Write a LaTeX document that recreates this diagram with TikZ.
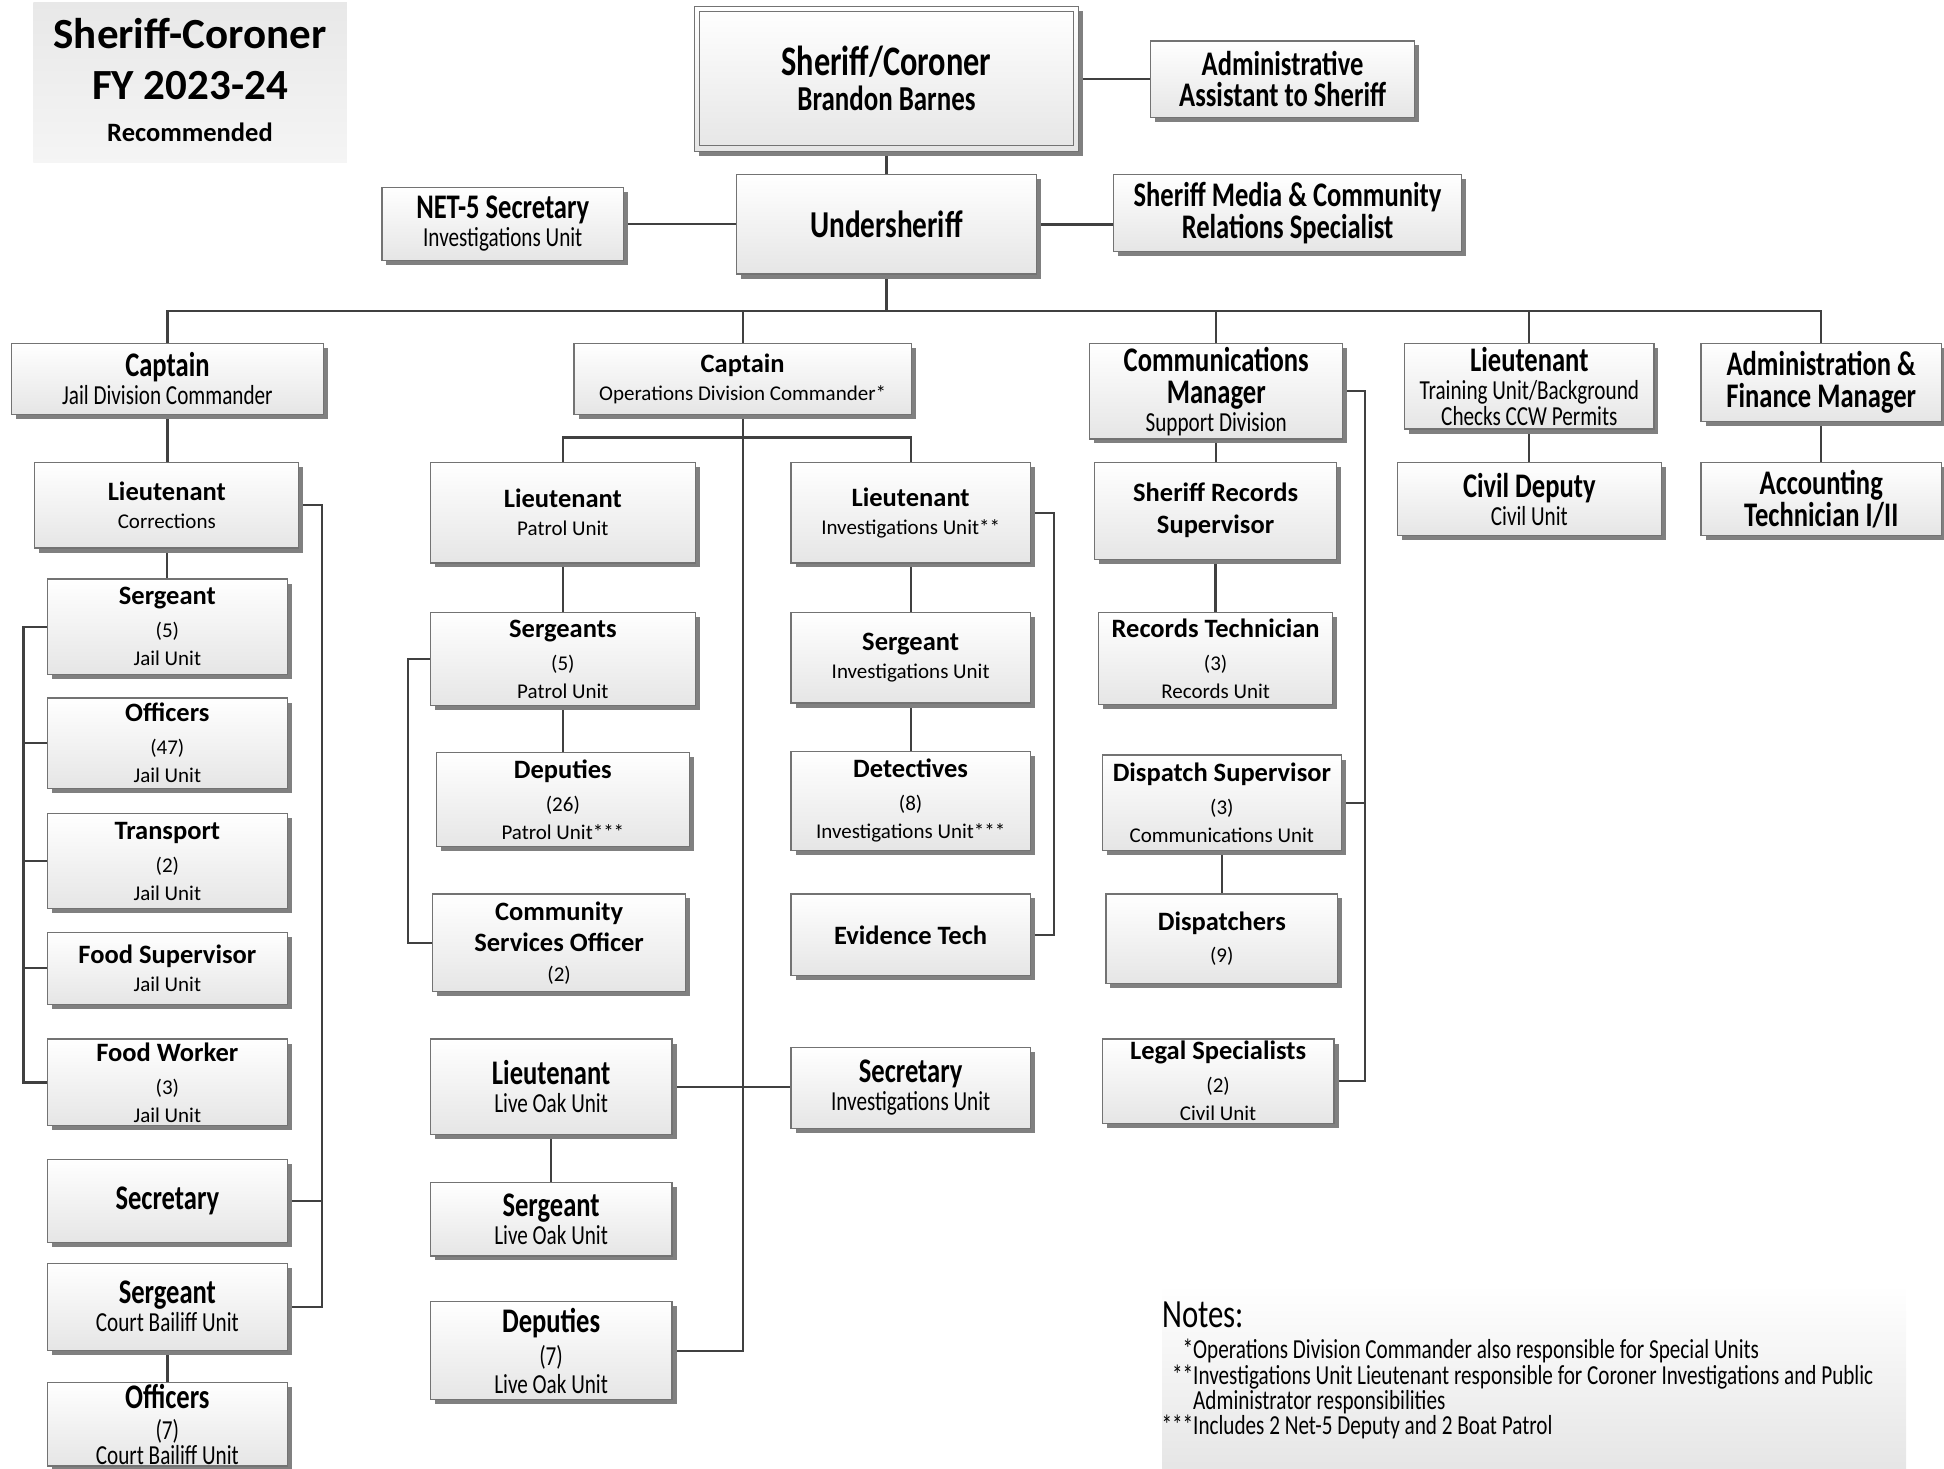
\documentclass[tikz,border=0pt]{standalone}
\usepackage{fontspec}
\setmainfont{Carlito}
\newfontfamily\tallfont[FakeStretch=0.77]{Carlito}
\usetikzlibrary{shadows}
\pgfdeclarelayer{bg}
\pgfsetlayers{bg,main}
\newcommand\nolsl{\lineskiplimit=-1000pt\relax}
\newcommand\wBold[1]{{\bfseries\fontsize{26.5}{28}\selectfont #1}}
\newcommand\wReg[1]{{\fontsize{21}{28}\selectfont #1}}
\newcommand\tBold[1]{{\tallfont\bfseries\fontsize{34.5}{28}\selectfont #1}}
\newcommand\tReg[1]{{\tallfont\fontsize{27.5}{28}\selectfont #1}}
\newcommand\orgbox[7]{\node[orgnode,#6,minimum width={#4pt-#2pt},minimum height={#5pt-#3pt}] (#1) at ({(#2+#4)/2},{(#3+#5)/2}) {#7};}
\begin{document}
\begin{tikzpicture}[x=1pt,y=-1pt,
  orgnode/.style={draw=black!55, line width=1.2pt, top color=white, bottom color=black!10,
    drop shadow={shadow xshift=4.5pt, shadow yshift=-4.5pt, fill=black!50, opacity=1},
    inner sep=0pt, align=center, font={\fontsize{21}{28}\selectfont\nolsl}},
  conn/.style={draw=black!75, line width=2.3pt},
  notefont/.style={font={\tallfont\fontsize{27.5}{28}\selectfont}, inner sep=0pt, anchor=base west}]
\useasboundingbox (0,0) rectangle (1944,1469);
\clip (0,0) rectangle (1944,1469);

% title
\node[top color=black!9, bottom color=black!4, minimum width=313.5pt, minimum height=160pt, inner sep=0pt] (titlebg) at (190.2,82.4) {};
\node[align=center, inner sep=0pt, font={\bfseries\fontsize{43}{51}\selectfont\nolsl}] (title) at (190,80) {Sheriff-Coroner\\FY 2023-24\\[-9pt]{\fontsize{26.5}{28}\selectfont Recommended}};

% top level
\orgbox{sher}{694.3}{6.2}{1078.6}{151.3}{}{{\tallfont\bfseries\fontsize{42}{28}\selectfont Sheriff/Coroner}\\[7pt]{\tallfont\bfseries\fontsize{35}{28}\selectfont Brandon Barnes}}
\draw[draw=black!55, line width=1.2pt] ([xshift=6pt,yshift=-6pt]sher.north west) rectangle ([xshift=-6pt,yshift=6pt]sher.south east);
\orgbox{adm}{1150.5}{41}{1414.6}{117.8}{}{\tBold{Administrative}\\[3pt]\tBold{Assistant to Sheriff}}
\orgbox{under}{736.4}{174.8}{1036.5}{274}{}{{\tallfont\bfseries\fontsize{38}{28}\selectfont Undersheriff}}
\orgbox{net}{381.9}{187.2}{623.6}{260.4}{}{\tBold{NET-5 Secretary}\\\tReg{Investigations Unit}}
\orgbox{media}{1113.3}{174.8}{1461.7}{251.7}{}{\tBold{Sheriff Media \& Community}\\[4pt]\tBold{Relations Specialist}}

% second row
\orgbox{capj}{11.2}{343.4}{323.6}{414.1}{}{\tBold{Captain}\\\tReg{Jail Division Commander}}
\orgbox{capo}{574}{343.4}{911.3}{414.1}{}{\wBold{Captain}\\\wReg{Operations Division Commander*}}
\orgbox{cmm}{1089.8}{343.4}{1342.7}{438.9}{}{\tBold{Communications}\\[4pt]\tBold{Manager}\\\tReg{Support Division}}
\orgbox{lttr}{1404.7}{343.4}{1653.9}{429}{}{\tBold{Lieutenant}\\\tReg{Training Unit/Background}\\[-2pt]\tReg{Checks CCW Permits}}
\orgbox{adfin}{1701}{343.4}{1941.5}{421.5}{}{\tBold{Administration \&}\\[4pt]\tBold{Finance Manager}}
\orgbox{civ}{1397.3}{462.4}{1661.3}{535.6}{}{\tBold{Civil Deputy}\\\tReg{Civil Unit}}
\orgbox{acct}{1701}{462.4}{1941.5}{535.6}{}{\tBold{Accounting}\\[4pt]\tBold{Technician I/II}}

% jail column
\orgbox{ltc}{34.7}{462.4}{298.8}{548}{}{\wBold{Lieutenant}\\\wReg{Corrections}}
\orgbox{sgj}{47.1}{579}{287.6}{674.4}{}{\wBold{Sergeant}\\[5pt]\wReg{(5)}\\\wReg{Jail Unit}}
\orgbox{ofj}{47.1}{698}{287.6}{788.5}{}{\wBold{Officers}\\[5pt]\wReg{(47)}\\\wReg{Jail Unit}}
\orgbox{trj}{47.1}{813.3}{287.6}{908.8}{}{\wBold{Transport}\\[5pt]\wReg{(2)}\\\wReg{Jail Unit}}
\orgbox{fsj}{47.1}{932.3}{287.6}{1004.2}{}{\wBold{Food Supervisor}\\\wReg{Jail Unit}}
\orgbox{fwj}{47.1}{1039}{287.6}{1125.7}{}{\wBold{Food Worker}\\[5pt]\wReg{(3)}\\\wReg{Jail Unit}}
\orgbox{secj}{47.1}{1159.2}{287.6}{1242.3}{}{\tBold{Secretary}}
\orgbox{sgc}{47.1}{1263.3}{287.6}{1350.1}{}{\tBold{Sergeant}\\\tReg{Court Bailiff Unit}}
\orgbox{ofc}{47.1}{1382.4}{287.6}{1466}{}{\tBold{Officers}\\[3pt]\tReg{(7)}\\[-3pt]\tReg{Court Bailiff Unit}}

% operations column
\orgbox{ltp}{430.2}{462.4}{695.5}{562.9}{}{\wBold{Lieutenant}\\\wReg{Patrol Unit}}
\orgbox{sgp}{430.2}{612.5}{695.5}{705.4}{}{\wBold{Sergeants}\\[5pt]\wReg{(5)}\\\wReg{Patrol Unit}}
\orgbox{dep}{436.4}{752.6}{689.3}{846.8}{}{\wBold{Deputies}\\[5pt]\wReg{(26)}\\\wReg{Patrol Unit***}}
\orgbox{cso}{432.7}{893.9}{685.6}{991.8}{}{\wBold{Community}\\[3pt]\wBold{Services Officer}\\[2pt]\wReg{(2)}}
\orgbox{lti}{791}{462.4}{1030.3}{562.9}{}{\wBold{Lieutenant}\\\wReg{Investigations Unit**}}
\orgbox{sgi}{791}{612.5}{1030.3}{703}{}{\wBold{Sergeant}\\\wReg{Investigations Unit}}
\orgbox{det}{791}{751.3}{1030.3}{850.5}{}{\wBold{Detectives}\\[5pt]\wReg{(8)}\\\wReg{Investigations Unit***}}
\orgbox{evt}{791}{893.9}{1030.3}{975.7}{}{\wBold{Evidence Tech}}
\orgbox{llo}{430.2}{1039}{672}{1134.4}{}{\tBold{Lieutenant}\\\tReg{Live Oak Unit}}
\orgbox{slo}{430.2}{1182.8}{672}{1255.9}{}{\tBold{Sergeant}\\\tReg{Live Oak Unit}}
\orgbox{dlo}{430.2}{1301.8}{672}{1399.7}{}{\tBold{Deputies}\\[5pt]\tReg{(7)}\\\tReg{Live Oak Unit}}
\orgbox{sci}{791}{1047.6}{1030.3}{1128.2}{}{\tBold{Secretary}\\\tReg{Investigations Unit}}

% communications column
\orgbox{rsu}{1094.7}{462.4}{1336.5}{559.1}{}{\wBold{Sheriff Records}\\[4pt]\wBold{Supervisor}}
\orgbox{rte}{1098.5}{612.5}{1332.8}{704.2}{}{\wBold{Records Technician}\\[5pt]\wReg{(3)}\\\wReg{Records Unit}}
\orgbox{dsu}{1102.2}{755}{1341.5}{850.5}{}{\wBold{Dispatch Supervisor}\\[5pt]\wReg{(3)}\\\wReg{Communications Unit}}
\orgbox{dis}{1105.9}{893.9}{1337.7}{983.2}{}{\wBold{Dispatchers}\\[4pt]\wReg{(9)}}
\orgbox{leg}{1102.2}{1039}{1334}{1123.3}{}{\wBold{Legal Specialists}\\[5pt]\wReg{(2)}\\\wReg{Civil Unit}}

% connectors
\begin{pgfonlayer}{bg}
\draw[conn] (sher.south) -- (under.north);
\draw[conn] (sher.east) -- (sher.east -| adm.west);
\draw[conn] (net.east) -- (net.east -| under.west);
\draw[conn] (under.east) -- (under.east -| media.west);
\coordinate (bus) at (886.45,311.2);
\draw[conn] (under.south) -- (bus);
\draw[conn] (capj.north) |- (bus) -| (adfin.north);
\draw[conn] (capo.north) -- (capo.north |- bus);
\draw[conn] (cmm.north) -- (cmm.north |- bus);
\draw[conn] (lttr.north) -- (lttr.north |- bus);
% jail
\coordinate (jl) at (23.6,0);
\coordinate (jr) at (322.3,0);
\draw[conn] (capj.south) -- (capj.south |- ltc.north);
\draw[conn] (ltc.south) -- (ltc.south |- sgj.north);
\draw[conn] (sgj.west) -| (jl |- fwj.west) -- (fwj.west);
\foreach \n in {ofj,trj,fsj} \draw[conn] (\n.west) -- (\n.west -| jl);
\draw[conn] (ltc.east) -| (jr |- sgc.east) -- (sgc.east);
\draw[conn] (secj.east) -- (secj.east -| jr);
\draw[conn] (sgc.south) -- (ofc.north);
% operations
\coordinate (obus) at (742.65,437.6);
\coordinate (pl) at (407.9,0);
\coordinate (ir) at (1053.8,0);
\draw[conn] (capo.south) |- (dlo.east);
\draw[conn] (ltp.north) |- (obus) -| (lti.north);
\draw[conn] (ltp.south) -- (sgp.north);
\draw[conn] (sgp.south) -- (dep.north);
\draw[conn] (sgp.west) -| (pl |- cso.west) -- (cso.west);
\draw[conn] (lti.south) -- (sgi.north);
\draw[conn] (sgi.south) -- (det.north);
\draw[conn] (lti.east) -| (ir |- evt.east) -- (evt.east);
\draw[conn] (llo.east) -- (llo.east -| sci.west);
\draw[conn] (llo.south) -- (slo.north);
% communications
\coordinate (cr) at (1365,0);
\draw[conn] (cmm.south) -- (cmm.south |- rsu.north);
\draw[conn] (rsu.south) -- (rsu.south |- rte.north);
\draw[conn] (dsu.south) -- (dsu.south |- dis.north);
\draw[conn] (cmm.east) -| (cr |- leg.east) -- (leg.east);
\draw[conn] (dsu.east) -- (dsu.east -| cr);
\draw[conn] (lttr.south) -- (lttr.south |- civ.north);
\draw[conn] (adfin.south) -- (acct.north);
\end{pgfonlayer}

% notes
\shade[top color=white, bottom color=black!10] (1162,1285) rectangle (1906,1469);
\node[inner sep=0pt, anchor=base west, font={\tallfont\fontsize{40}{40}\selectfont}] (notes) at (1162,1327) {Notes:};
\node[notefont] (n1) at (1193,1358) {\llap{*}Operations Division Commander also responsible for Special Units};
\node[notefont] (n2) at (1193,1384) {\llap{**}Investigations Unit Lieutenant responsible for Coroner Investigations and Public};
\node[notefont] (n3) at (1193,1409) {Administrator responsibilities};
\node[notefont] (n4) at (1193,1434) {\llap{***}Includes 2 Net-5 Deputy and 2 Boat Patrol};
\end{tikzpicture}
\end{document}
